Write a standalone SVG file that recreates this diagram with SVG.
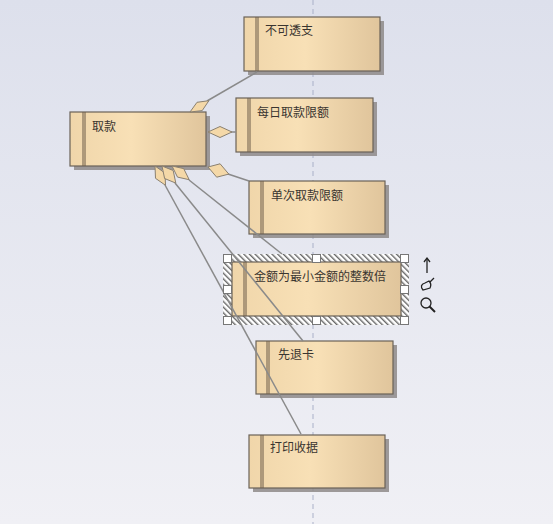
<svg xmlns="http://www.w3.org/2000/svg" width="553" height="524" viewBox="0 0 553 524">
<defs>
<linearGradient id="bg" x1="0" y1="0" x2="0" y2="1">
<stop offset="0" stop-color="#dde0ec"/>
<stop offset="1" stop-color="#f0f0f5"/>
</linearGradient>
<linearGradient id="nf" x1="0" y1="0" x2="1" y2="0">
<stop offset="0" stop-color="#f0d6aa"/>
<stop offset="0.45" stop-color="#f8e0b6"/>
<stop offset="1" stop-color="#e0c59c"/>
</linearGradient>
<pattern id="hatch" width="4" height="4" patternUnits="userSpaceOnUse" patternTransform="rotate(-45)">
<rect width="4" height="4" fill="#ffffff"/>
<rect width="1.4" height="4" fill="#666"/>
</pattern>
</defs>
<style>
.box{fill:url(#nf);stroke:#6a6258;stroke-width:1.2}
.sh{fill:#8e8a88;opacity:0.85}
.bar{stroke:#6a5a48;stroke-width:1}
.t{font-family:"Noto Sans CJK SC","Liberation Sans",sans-serif;font-size:12px;fill:#3a3530}
.c{stroke:#8a8a8a;stroke-width:1.5;fill:none}
.d{fill:#f4d8a8;stroke:#8a8070;stroke-width:1}
.h{fill:#fff;stroke:#777;stroke-width:1}
</style>
<rect width="553" height="524" fill="url(#bg)"/>
<line x1="313" y1="0" x2="313" y2="524" stroke="#a9b0c8" stroke-width="1" stroke-dasharray="5,4"/>

<g id="n_qukuan">
<rect class="sh" x="74" y="116" width="136" height="54"/>
<rect class="box" x="70" y="112" width="136" height="54"/>
<line class="bar" x1="83" y1="112" x2="83" y2="166"/><line class="bar" x1="85" y1="112" x2="85" y2="166"/>
<text class="t" x="92" y="131">取款</text>
</g>

<g id="n_bukětouzhi">
<rect class="sh" x="248" y="21" width="136" height="54"/>
<rect class="box" x="244" y="17" width="136" height="54"/>
<line class="bar" x1="256" y1="17" x2="256" y2="71"/><line class="bar" x1="258" y1="17" x2="258" y2="71"/>
<text class="t" x="265" y="35">不可透支</text>
</g>

<g id="n_meiri">
<rect class="sh" x="240" y="102" width="137" height="54"/>
<rect class="box" x="236" y="98" width="137" height="54"/>
<line class="bar" x1="248" y1="98" x2="248" y2="152"/><line class="bar" x1="250" y1="98" x2="250" y2="152"/>
<text class="t" x="257" y="117">每日取款限额</text>
</g>

<g id="n_danci">
<rect class="sh" x="253" y="185" width="136" height="53"/>
<rect class="box" x="249" y="181" width="136" height="53"/>
<line class="bar" x1="261" y1="181" x2="261" y2="234"/><line class="bar" x1="263" y1="181" x2="263" y2="234"/>
<text class="t" x="271" y="200">单次取款限额</text>
</g>

<g id="n_xiantuika">
<rect class="sh" x="260" y="345" width="137" height="53"/>
<rect class="box" x="256" y="341" width="137" height="53"/>
<line class="bar" x1="267" y1="341" x2="267" y2="394"/><line class="bar" x1="269" y1="341" x2="269" y2="394"/>
<text class="t" x="278" y="359">先退卡</text>
</g>

<g id="n_dayin">
<rect class="sh" x="253" y="439" width="136" height="53"/>
<rect class="box" x="249" y="435" width="136" height="53"/>
<line class="bar" x1="261" y1="435" x2="261" y2="488"/><line class="bar" x1="263" y1="435" x2="263" y2="488"/>
<text class="t" x="270" y="452">打印收据</text>
</g>

<g id="n_jine">
<path fill="url(#hatch)" fill-rule="evenodd" d="M223,254 H409 V325 H223 Z M232,262 V316 H401 V262 Z"/>
<rect class="box" x="232" y="262" width="169" height="54"/>
<line class="bar" x1="244" y1="262" x2="244" y2="316"/><line class="bar" x1="246" y1="262" x2="246" y2="316"/>
<text class="t" x="254" y="281">金额为最小金额的整数倍</text>
</g>

<g id="connectors">
<line class="c" x1="207" y1="101" x2="257" y2="72"/>
<line class="c" x1="231" y1="132" x2="236" y2="132"/>
<line class="c" x1="228" y1="174" x2="249" y2="181"/>
<line class="c" x1="165" y1="185" x2="301" y2="434"/>
<line class="c" x1="175" y1="183" x2="303" y2="341"/>
<line class="c" x1="189" y1="180" x2="282" y2="254"/>
<polygon class="d" points="190,112 197,102.3 208.9,100.7 202.2,110.6"/>
<polygon class="d" points="208,132 220,126.5 232,132 220,137.5"/>
<polygon class="d" points="208,167 220.1,163.8 228.8,174.1 216.7,177.2"/>
<polygon class="d" points="155,166 155.5,178.3 165.5,185.3 165,173"/>
<polygon class="d" points="162,166 164.6,178.5 175.8,183.1 173.2,170.5"/>
<polygon class="d" points="172,166 177.5,177.1 189.2,179.7 183.7,168.6"/>
</g>

<g id="selection">
<rect class="h" x="223.5" y="254.5" width="8" height="8"/>
<rect class="h" x="312.5" y="254.5" width="8" height="8"/>
<rect class="h" x="400.5" y="254.5" width="8" height="8"/>
<rect class="h" x="223.5" y="285.5" width="8" height="8"/>
<rect class="h" x="400.5" y="285.5" width="8" height="8"/>
<rect class="h" x="223.5" y="316.5" width="8" height="8"/>
<rect class="h" x="312.5" y="316.5" width="8" height="8"/>
<rect class="h" x="400.5" y="316.5" width="8" height="8"/>
<g stroke="#222" stroke-width="1.3" fill="none">
<line x1="427" y1="259" x2="427" y2="273"/>
<polyline points="424,262 427,258 430,262"/>
<path d="M423,290 q-4,-5 2,-7 l4,-2 q3,3 1,7 z"/>
<line x1="430" y1="282" x2="434" y2="278"/>
<circle cx="426" cy="303" r="5"/>
<line x1="429.5" y1="306.5" x2="435" y2="312" stroke-width="2"/>
</g>
</g>
</svg>
